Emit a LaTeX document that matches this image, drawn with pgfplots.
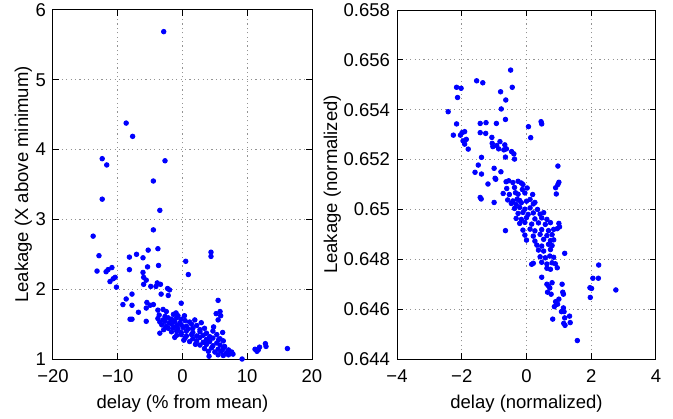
\documentclass[border=0pt]{standalone}
\usepackage{fontspec}
\setmainfont{Liberation Sans}
\usepackage{pgfplots}
\pgfplotsset{compat=1.18}

\pgfplotsset{
  mat/.style={
    scale only axis,
    width=129.5pt, height=174.5pt,
    grid=major,
    major grid style={gray!85, line width=0.5pt, dash pattern=on 0.6pt off 1.6pt},
    axis line style={line width=0.5pt},
    tick style={black, line width=0.5pt},
    major tick length=3pt,
    tick align=inside,
    every tick label/.append style={font=\fontsize{9.25}{11}\selectfont},
    xticklabel style={yshift=-2pt},
    label style={font=\fontsize{9.25}{11}\selectfont},
    /pgf/number format/assume math mode=true,
  },
  dots/.style={only marks, mark=*, mark size=1.15pt, color=blue, fill=blue},
}

\begin{document}
\begin{tikzpicture}
\path[use as bounding box] (-26.5pt,-29.5pt) rectangle (310pt,179.5pt);

\begin{axis}[mat,
  xmin=-20, xmax=20, ymin=1, ymax=6,
  xtick={-20,-10,0,10,20}, xticklabels={−20,−10,0,10,20},
  ytick={1,2,3,4,5,6},
  xlabel={delay (\% from mean)},
  ylabel={Leakage (X above minimum)},
  ylabel style={yshift=-5pt},
  xlabel style={yshift=1pt},
]
\addplot[dots] coordinates {
(-2.9,5.69) (-8.7,4.38) (-7.7,4.19) (-12.4,3.87) (-11.7,3.78) (-2.7,3.84)
(-4.5,3.55) (-12.4,3.29) (-3.5,3.13) (-13.8,2.76) (-4.5,2.85) (-12.9,2.48)
(-13.2,2.26) (-11.8,2.25) (-11.5,2.28) (-10.9,2.31) (-10.4,2.17) (-11.2,2.11)
(-10.7,2.15) (-10.2,2.03) (-8.2,2.46) (-8.2,2.28) (-7.1,2.50) (-6.1,2.45)
(-5.3,2.56) (-5.4,2.32) (-3.8,2.58) (-3.7,2.34) (-6.1,2.24) (-6.0,2.17)
(-5.6,2.13) (-6.0,2.07) (-4.9,2.04) (-4.1,2.04) (-3.9,2.09) (-3.4,2.07)
(-2.3,2.01) (-2.0,1.99) (-2.2,1.91) (-3.3,1.93) (-7.8,1.93) (-8.7,1.86)
(-9.2,1.78) (-7.8,1.77) (-6.8,1.67) (-8.1,1.57) (-7.8,1.57) (-5.6,1.54)
(-5.5,1.81) (-5.0,1.77) (-4.5,1.78) (-5.6,1.73) (-0.2,1.80) (0.5,2.40)
(0.9,2.21) (4.4,2.53) (4.4,2.47) (5.5,1.84) (5.2,1.65) (5.8,1.68)
(5.9,1.62) (5.5,1.56) (-3.5,1.37) (9.2,1.00) (7.8,1.07) (11.2,1.14)
(11.7,1.13) (11.9,1.17) (12.8,1.22) (12.9,1.18) (16.2,1.15) (11.5,1.11)
(-3.8,1.70) (-3.0,1.71) (-2.5,1.68)
(-3.6,1.63) (-2.7,1.61) (-1.4,1.64) (-0.7,1.62)
(-3.8,1.58) (-3.0,1.56) (-2.2,1.59) (-1.7,1.57) (-0.9,1.59) (-0.2,1.57)
(-3.5,1.53) (-2.7,1.54) (-2.0,1.52) (-1.2,1.54) (-0.4,1.52) (0.4,1.55) (1.1,1.53)
(-3.2,1.49) (-2.5,1.47) (-1.7,1.50) (-0.9,1.48) (-0.2,1.49) (0.6,1.47) (1.4,1.50) (2.2,1.48)
(-2.2,1.44) (-1.4,1.45) (-0.7,1.43) (0.1,1.45) (0.9,1.43) (1.6,1.44) (2.7,1.42) (3.4,1.44)
(-1.7,1.39) (-0.9,1.40) (-0.2,1.38) (0.6,1.40) (1.6,1.38) (2.7,1.39) (3.7,1.37) (4.7,1.40)
(-0.9,1.34) (-0.2,1.35) (0.6,1.33) (1.4,1.35) (2.2,1.33) (3.2,1.34) (4.2,1.32) (5.3,1.35)
(0.4,1.30) (1.6,1.29) (2.7,1.31) (3.7,1.28) (4.7,1.30) (5.8,1.29)
(1.1,1.25) (2.2,1.26) (3.2,1.24) (4.2,1.25) (5.3,1.23) (6.3,1.26)
(2.7,1.20) (3.7,1.21) (4.7,1.19) (5.8,1.20) (6.5,1.18)
(3.4,1.15) (4.5,1.16) (5.5,1.14) (6.3,1.15) (7.1,1.13)
(4.0,1.11) (5.0,1.10) (6.0,1.11) (6.8,1.09) (7.6,1.10)
(5.5,1.06) (6.3,1.05) (7.1,1.06)
(-1.0,1.66) (0.3,1.62) (1.9,1.56) (2.9,1.52) (-2.9,1.42) (-1.2,1.31) (0.2,1.27)
(4.8,1.46) (6.2,1.38) (5.6,1.28) (2.0,1.21) (4.1,1.04)
};
\end{axis}

\begin{axis}[mat, at={(172pt,0pt)},
  xmin=-4, xmax=4, ymin=0.644, ymax=0.658,
  xtick={-4,-2,0,2,4}, xticklabels={−4,−2,0,2,4},
  ytick={0.644,0.646,0.648,0.65,0.652,0.654,0.656,0.658},
  yticklabels={0.644,0.646,0.648,0.65,0.652,0.654,0.656,0.658},
  xlabel={delay (normalized)},
  ylabel={Leakage (normalized)},
  ylabel style={yshift=-5.5pt},
  xlabel style={yshift=1pt},
]
\addplot[dots] coordinates {
(-0.49,0.65559) (-2.42,0.65392) (-2.16,0.65343) (-2.26,0.65298) (-2.16,0.65490)
(-2.02,0.65486) (-2.13,0.65449) (-1.54,0.65516) (-1.35,0.65508) (-2.04,0.65298)
(-1.99,0.65308) (-1.91,0.65312) (-1.86,0.65281) (-1.96,0.65275) (-1.91,0.65262)
(-1.80,0.65242) (-0.80,0.65472) (-0.44,0.65490) (-0.64,0.65439) (-0.78,0.65403)
(-0.65,0.65361) (-0.93,0.65345) (-1.43,0.65345) (-1.25,0.65348) (-1.43,0.65308)
(-1.26,0.65305) (-1.07,0.65289) (-1.06,0.65265) (-0.92,0.65256) (-0.82,0.65272)
(-0.67,0.65259) (-0.62,0.65243) (-0.70,0.65239) (-0.46,0.65232) (-0.39,0.65223)
(-0.37,0.65202) (-0.65,0.65210) (-0.86,0.65243) (-1.04,0.65252) (-1.39,0.65209)
(-1.49,0.65178) (-1.39,0.65142) (-1.59,0.65149) (-1.19,0.65102) (-0.97,0.65125)
(-0.79,0.65151) (-0.95,0.65121) (-1.00,0.65165) (-1.40,0.65042) (-1.43,0.65048)
(-1.00,0.65028) (-0.65,0.64915) (0.06,0.65332) (0.13,0.65288) (0.45,0.65352)
(0.47,0.65343) (0.97,0.65174) (1.00,0.65109) (0.97,0.65100) (0.90,0.65087)
(0.92,0.65062) (1.00,0.64944) (1.02,0.64930) (0.95,0.64923) (1.18,0.64824)
(0.16,0.64780) (0.47,0.64728) (0.63,0.64700) (0.65,0.64668) (0.68,0.64693)
(0.76,0.64660) (0.72,0.64685) (0.79,0.64706) (1.10,0.64700) (1.12,0.64668)
(1.14,0.64660) (0.86,0.64610) (0.90,0.64630) (0.96,0.64620) (1.00,0.64640)
(0.81,0.64560) (1.08,0.64590) (1.14,0.64605) (1.16,0.64590)
(1.18,0.64565) (1.15,0.64543) (1.19,0.64535) (1.33,0.64572) (1.35,0.64546)
(1.57,0.64474) (1.96,0.64686) (2.01,0.64683) (1.97,0.64647) (2.05,0.64724)
(2.22,0.64724) (2.23,0.64777) (2.76,0.64677)
(-0.63,0.65111) (-0.55,0.65115) (-0.42,0.65108) (-0.26,0.65113) (-0.16,0.65106) (-0.11,0.65100)
(-0.61,0.65084) (-0.37,0.65088) (-0.13,0.65080) (0.02,0.65086)
(-0.72,0.65064) (-0.53,0.65060) (-0.34,0.65067) (-0.26,0.65061) (-0.05,0.65066) (0.19,0.65060)
(-0.58,0.65038) (-0.42,0.65034) (-0.29,0.65041) (-0.21,0.65036) (0.11,0.65040) (0.00,0.65033)
(-0.47,0.65024) (-0.32,0.65020) (-0.16,0.65027) (0.21,0.65022) (0.26,0.65028)
(-0.37,0.65004) (-0.21,0.65008) (-0.05,0.65001) (0.11,0.65006) (0.34,0.65000)
(-0.26,0.64984) (-0.11,0.64988) (0.05,0.64980) (0.21,0.64986) (0.42,0.64981) (0.53,0.64987)
(-0.32,0.64964) (-0.16,0.64960) (0.00,0.64967) (0.26,0.64962) (0.47,0.64966) (0.63,0.64960)
(-0.21,0.64944) (-0.05,0.64948) (0.16,0.64941) (0.37,0.64946) (0.58,0.64940) (0.74,0.64947)
(-0.11,0.64917) (0.11,0.64921) (0.26,0.64914) (0.47,0.64919) (0.68,0.64915) (0.84,0.64920)
(-0.05,0.64897) (0.21,0.64893) (0.42,0.64900) (0.63,0.64895) (0.79,0.64899)
(0.00,0.64877) (0.26,0.64873) (0.53,0.64880) (0.74,0.64875) (0.84,0.64878)
(0.32,0.64857) (0.47,0.64853) (0.68,0.64860) (0.79,0.64855)
(0.37,0.64837) (0.53,0.64833) (0.74,0.64839)
(0.42,0.64810) (0.58,0.64806) (0.72,0.64813) (0.84,0.64808)
(0.21,0.64784) (0.47,0.64788) (0.63,0.64781) (0.79,0.64786) (0.89,0.64782)
(0.63,0.64764) (0.74,0.64760) (0.95,0.64766)
};
\end{axis}
\end{tikzpicture}
\end{document}
